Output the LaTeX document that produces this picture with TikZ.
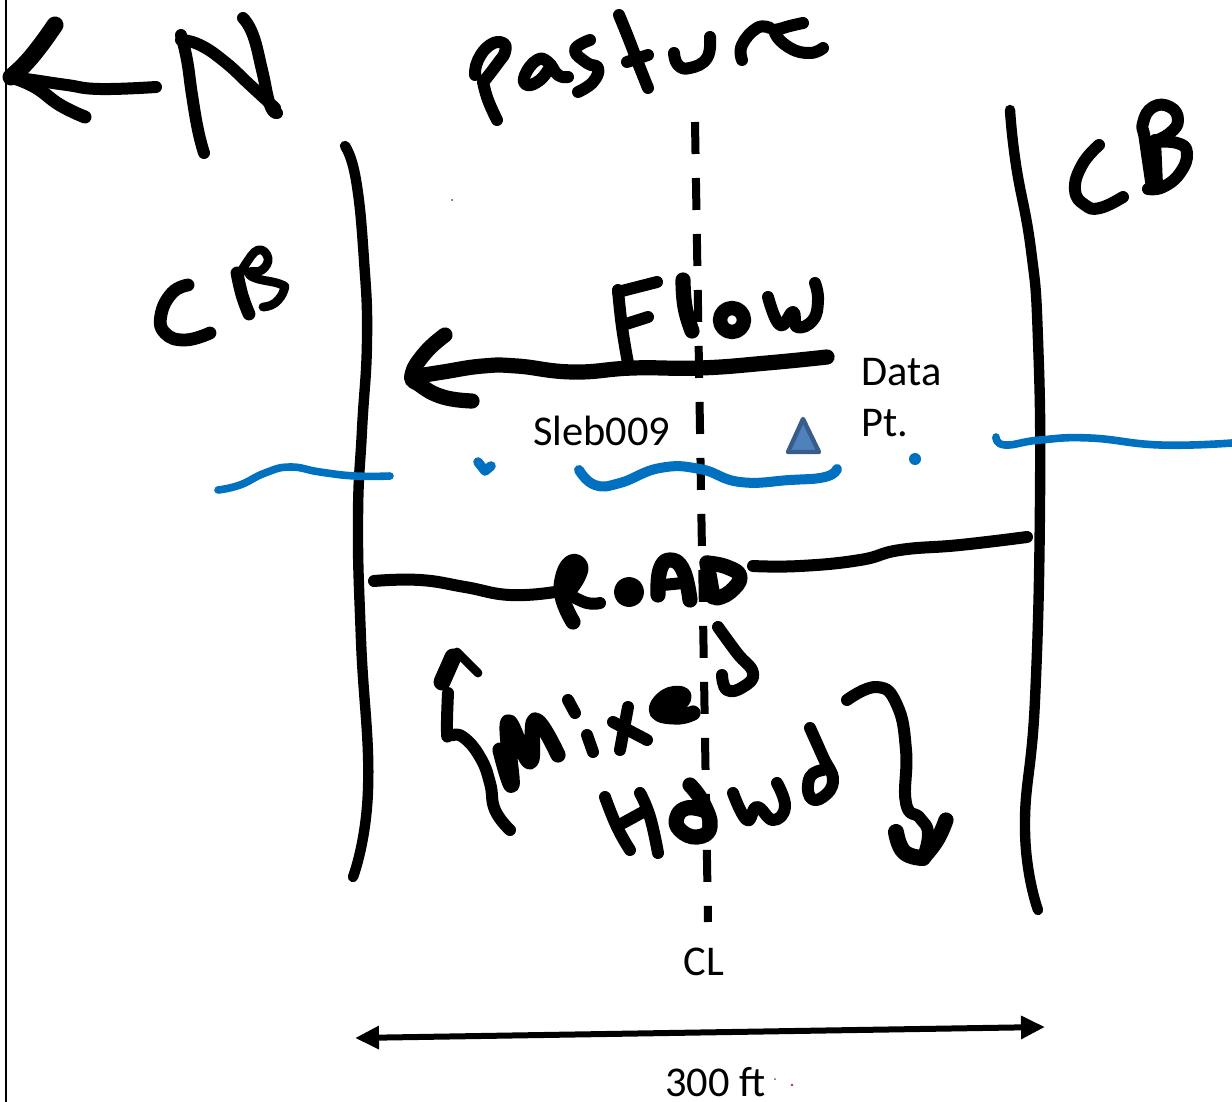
\documentclass[tikz,border=0pt]{standalone}
\usepackage{fontspec}
\setmainfont{Carlito}
\usetikzlibrary{arrows.meta}
\definecolor{riverblue}{HTML}{0070C0}
\definecolor{trifill}{HTML}{4F81BD}
\definecolor{triline}{HTML}{385D8A}
\definecolor{speck}{HTML}{8A4B2A}
\tikzset{
  ink/.style={black,line width=6pt,line cap=round,line join=round},
  edge ink/.style={ink,line width=5.2pt},
  thin ink/.style={ink,line width=4.4pt},
  fat ink/.style={ink,line width=7.6pt},
  river/.style={riverblue,line width=3.8pt,line cap=round,line join=round},
  printed/.style={inner sep=0pt,anchor=base west,font=\fontsize{21.2}{25}\selectfont,text=black}
}
\newcommand\stroke[2][]{\draw[ink,#1] plot[smooth,tension=.8] coordinates {#2};}
\newcommand\wave[2][]{\draw[river,#1] plot[smooth,tension=.8] coordinates {#2};}
\begin{document}
\begin{tikzpicture}[x=.5pt,y=-.5pt]
\useasboundingbox (0,0) rectangle (1232,1102);
\clip (0,0) rectangle (1232,1102);
\fill[white] (0,0) rectangle (1232,1102);
% page edge
\draw[black,line width=1pt] (6,0) -- (6,1102);
% centre line
\coordinate (clA) at (695,122);
\coordinate (clB) at (708,922);
\draw[black,line width=4pt,dash pattern=on 16pt off 12pt] (clA) -- (clB);
% north arrow
\stroke{(11,77)(33,80)(67,85)(100,89)(156,87)}
\stroke[line width=8.5pt]{(55,25)(40,46)(25,64)(11,77)}
\stroke[line width=6.5pt]{(11,77)(35,87)(60,105)(85,117)}
% N
\stroke{(181,35)(187,60)(192,95)(198,130)(204,153)}
\stroke{(181,40)(200,45)(225,62)(250,85)(275,108)}
\stroke{(243,18)(253,35)(262,70)(270,105)(277,113)}
% left CB
\stroke[line width=6.4pt]{(188,285)(172,293)(161,315)(165,333)(185,340)(210,333)}
\stroke[line width=6.4pt]{(237,273)(242,295)(249,314)}
\stroke[thin ink]{(240,275)(245,265)(258,250)(268,258)(262,270)(250,272)(255,278)(280,284)(284,290)(275,303)(263,307)}
% borders
\stroke[edge ink]{(345,146)(356,180)(364,260)(367,340)(362,430)(358,520)(361,640)(368,790)(353,877)}
\stroke[edge ink]{(1010,110)(1016,165)(1031,250)(1038,340)(1040,500)(1035,700)(1025,830)(1038,910)}
% right CB
\stroke{(1099,145)(1082,165)(1075,190)(1085,205)(1100,208)(1123,197)}
\stroke{(1152,188)(1145,140)(1143,123)(1153,107)(1170,107)(1178,120)(1170,133)(1153,142)}
\stroke{(1153,142)(1177,143)(1187,153)(1180,173)(1163,187)(1148,189)}
\stroke{(1155,140)(1157,185)}
% pasture
\stroke{(497,120)(488,100)(483,82)}
\stroke{(475,75)(478,60)(490,45)(503,43)(505,52)(498,63)(485,80)}
\stroke{(568,77)(558,75)(548,62)(537,60)(525,75)(527,85)(540,80)(550,67)}
\stroke{(590,40)(575,50)(587,63)(598,68)(593,82)(578,92)}
\stroke{(619,15)(628,37)(638,63)(648,88)}
\stroke{(627,62)(648,55)}
\stroke{(674,53)(678,65)(690,68)(707,58)(710,37)}
\stroke{(742,60)(742,45)(757,28)(770,28)}
\stroke{(803,23)(783,28)(775,33)(790,48)(810,53)(823,48)}
% Flow
\stroke[fat ink]{(827,357)(767,363)(700,368)(633,368)(573,372)(517,366)(483,366)(443,372)(412,377)}
\stroke[fat ink]{(445,335)(425,353)(412,375)(420,385)(443,397)(472,401)}
\stroke{(618,290)(622,327)(628,363)}
\stroke{(618,292)(657,282)}
\stroke{(623,325)(648,317)}
\stroke[fat ink]{(683,280)(685,307)(692,331)}
\draw[fat ink,line width=7.2pt] (732,320) circle (12);
\stroke{(768,297)(780,325)(793,312)(797,327)(813,320)(818,300)(815,283)}
% printed labels
\node[printed] (sleb) at (533,445) {Sleb009};
\node[printed] (data) at (861,385) {Data};
\node[printed] (pt) at (861,436) {Pt.};
\node[printed] (cl) at (683,975) {CL};
\node[printed] (dist) at (665,1096) {300 ft};
% data point
\draw[fill=trifill,draw=triline,line width=2.2pt,line join=round] (803,419) -- (788,452) -- (819,452) -- cycle;
% water
\wave{(218,490)(240,485)(265,473)(290,467)(320,472)(355,476)(390,476)}
\draw[river,line width=4.8pt] (478,462) -- (485,471) -- (491,466);
\wave[line width=5pt]{(579,470)(595,485)(620,483)(660,468)(700,469)(740,482)(790,480)(825,477)(837,469)}
\fill[riverblue] (915,459) circle (6);
\wave{(996,437)(1005,445)(1040,440)(1090,438)(1160,445)(1232,443)}
\fill[riverblue!70!black] (452,200) circle (1);
% road
\stroke{(374,581)(420,580)(465,587)(510,595)(555,592)}
\stroke{(753,566)(800,566)(860,560)(900,550)(960,545)(1027,537)}
\stroke[fat ink]{(573,622)(563,600)(562,580)(570,563)(580,565)(578,577)(567,593)}
\stroke{(570,595)(587,603)(600,603)}
\draw[fat ink,line width=7.5pt] (629,592) circle (7.5);
\stroke[fat ink]{(658,595)(660,570)(670,560)(683,570)(690,600)}
\stroke{(663,585)(683,583)}
\stroke[fat ink]{(707,563)(713,597)}
\stroke[fat ink]{(707,563)(727,567)(740,577)(730,592)(717,598)}
% left curved arrow
\stroke[line width=8.5pt]{(442,682)(453,657)}
\stroke[thin ink]{(457,652)(478,673)}
\stroke{(448,693)(447,732)(450,735)(463,737)(480,757)(490,783)(495,810)(510,830)}
% Mixed
\stroke[fat ink]{(500,750)(512,785)(508,722)(530,762)(535,720)(558,755)}
\stroke{(568,700)(575,713)}
\stroke{(587,735)(593,752)}
\stroke{(613,722)(647,740)}
\stroke{(628,707)(620,750)}
\stroke[fat ink]{(693,713)(677,717)(657,712)(665,697)(682,694)(680,703)(663,708)}
\stroke{(718,627)(737,653)(753,673)(743,687)(727,690)(722,675)}
% Hdwd
\stroke{(605,797)(617,827)(630,850)}
\stroke{(640,793)(650,817)(658,853)}
\stroke{(623,823)(643,812)}
\stroke[fat ink]{(690,785)(703,803)(710,827)(697,837)(680,830)(677,817)(687,808)(703,810)}
\stroke{(733,793)(747,820)(757,807)(773,820)(785,807)(777,783)}
\stroke{(810,728)(823,757)(833,780)(823,797)(810,797)(810,777)(823,770)}
% right curved arrow
\stroke{(847,700)(877,687)(897,705)(906,750)(906,803)(920,818)(928,833)(923,857)}
\stroke[line width=8pt]{(896,832)(904,852)(923,858)}
\stroke[fat ink]{(923,858)(937,840)(946,820)}
% width arrow
\coordinate (wA) at (355,1038);
\coordinate (wB) at (1045,1027);
\draw[black,line width=3pt,{Triangle[length=12pt,width=11pt]}-{Triangle[length=12pt,width=11pt]}] (wA) -- (wB);
\fill[speck] (775,1079) circle (1) (792,1085) circle (1.3);
\end{tikzpicture}
\end{document}
